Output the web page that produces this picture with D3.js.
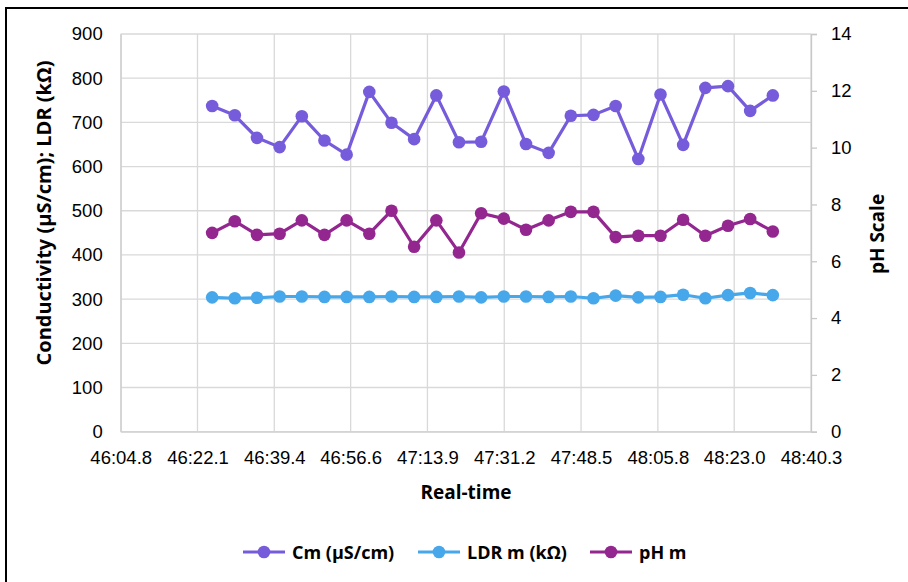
<!DOCTYPE html>
<html><head><meta charset="utf-8">
<script src="https://cdn.jsdelivr.net/npm/d3@7"></script>
<style>
body{margin:0;background:#fff;}
svg{display:block;font-family:"Open Sans",Lato,sans-serif;}
</style></head>
<body><svg id="c" width="908" height="582"></svg>
<script>
const times = ["46:25.4","46:30.5","46:35.5","46:40.6","46:45.6","46:50.7","46:55.7","47:00.8","47:05.8","47:10.9","47:15.9","47:21.0","47:26.0","47:31.1","47:36.1","47:41.2","47:46.2","47:51.3","47:56.3","48:01.4","48:06.4","48:11.5","48:16.5","48:21.6","48:26.6","48:31.7"];
const cm  = [737,716,665,644,714,659,627,769,699,662,761,655,656,770,651,631,715,717,737,617,763,649,778,782,726,761];
const ldr = [304,302,303,306,306,305,305,305,306,305,305,306,304,306,306,305,306,302,308,304,305,310,302,309,314,309];
const ph  = [7.00,7.41,6.93,6.97,7.44,6.93,7.44,6.97,7.78,6.51,7.44,6.31,7.69,7.50,7.11,7.44,7.74,7.74,6.85,6.90,6.90,7.46,6.90,7.25,7.49,7.05];
const xTickLabels = ["46:04.8","46:22.1","46:39.4","46:56.6","47:13.9","47:31.2","47:48.5","48:05.8","48:23.0","48:40.3"];
const leftTicks = [0,100,200,300,400,500,600,700,800,900];
const rightTicks = [0,2,4,6,8,10,12,14];
const seriesNames = ["Cm (µS/cm)","LDR m (kΩ)","pH m"];
const colors = ["#765cdb","#47a7eb","#93278f"];

const toSec = s => { const [m, r] = s.split(":"); return +m*60 + +r; };

const svg = d3.select("#c");
const L = 120.7, R = 811, T = 34, B = 431.7;

svg.append("rect").attr("x",6).attr("y",8).attr("width",908).attr("height",590)
  .attr("fill","none").attr("stroke","#000").attr("stroke-width",2);

const x = d3.scaleLinear().domain([toSec(xTickLabels[0]), toSec(xTickLabels[xTickLabels.length-1])]).range([L,R]);
const yL = d3.scaleLinear().domain([0,900]).range([B,T]);
const yR = d3.scaleLinear().domain([0,14]).range([B,T]);

const g = svg.append("g");
g.selectAll("line.h").data(leftTicks).join("line")
  .attr("x1",L).attr("x2",R).attr("y1",d=>yL(d)).attr("y2",d=>yL(d))
  .attr("stroke","#d9d9d9").attr("stroke-width",1.3);
g.selectAll("line.v").data(xTickLabels).join("line")
  .attr("x1",d=>x(toSec(d))).attr("x2",d=>x(toSec(d))).attr("y1",T).attr("y2",B)
  .attr("stroke","#d9d9d9").attr("stroke-width",1.3);

const tickFont = 18.5;
const axL = d3.axisLeft(yL).tickValues(leftTicks).tickSize(0).tickPadding(18);
svg.append("g").attr("transform",`translate(${L},0)`).call(axL)
  .call(s=>{s.select(".domain").attr("stroke","#d0d0d0").attr("stroke-width",1.3);
    s.selectAll("text").attr("font-size",tickFont).attr("fill","#000");});
const axR = d3.axisRight(yR).tickValues(rightTicks).tickSize(6).tickPadding(14);
svg.append("g").attr("transform",`translate(${R},0)`).call(axR)
  .call(s=>{s.select(".domain").attr("stroke","#c8c8c8").attr("stroke-width",1.3);
    s.selectAll("line").attr("stroke","#c8c8c8").attr("stroke-width",1.3);
    s.selectAll("text").attr("font-size",tickFont).attr("fill","#000");});
const axB = d3.axisBottom(x).tickValues(xTickLabels.map(toSec)).tickSize(0).tickPadding(19)
  .tickFormat((d,i)=>xTickLabels[i]);
svg.append("g").attr("transform",`translate(0,${B})`).call(axB)
  .call(s=>{s.select(".domain").attr("stroke","#d0d0d0").attr("stroke-width",1.3);
    s.selectAll("text").attr("font-size",tickFont).attr("fill","#000");});

svg.append("text").attr("transform","translate(51,213) rotate(-90)").attr("text-anchor","middle")
  .attr("font-size",20).attr("font-weight","bold").text("Conductivity (µS/cm); LDR (kΩ)");
svg.append("text").attr("transform","translate(884,234) rotate(-90)").attr("text-anchor","middle")
  .attr("font-size",19).attr("font-weight","bold").text("pH Scale");
svg.append("text").attr("x",466).attr("y",499).attr("text-anchor","middle")
  .attr("font-size",19).attr("font-weight","bold").text("Real-time");

const data = [{vals: cm, y: yL}, {vals: ldr, y: yL}, {vals: ph, y: yR}];
[0,2,1].forEach(k=>{
  const s = data[k];
  const pts = times.map((t,i)=>[x(toSec(t)), s.y(s.vals[i])]);
  svg.append("path").attr("d", d3.line()(pts)).attr("fill","none")
    .attr("stroke",colors[k]).attr("stroke-width",3.2).attr("stroke-linejoin","round");
  svg.append("g").selectAll("circle").data(pts).join("circle")
    .attr("cx",d=>d[0]).attr("cy",d=>d[1]).attr("r",6.3).attr("fill",colors[k]);
});

const legX = [243, 418, 590];
seriesNames.forEach((n,i)=>{
  const lg = svg.append("g").attr("transform",`translate(${legX[i]},552)`);
  lg.append("line").attr("x1",0).attr("x2",42).attr("stroke",colors[i]).attr("stroke-width",3.2);
  lg.append("circle").attr("cx",21).attr("r",6.3).attr("fill",colors[i]);
  lg.append("text").attr("x",49).attr("y",6.5).attr("font-size",18).attr("font-weight","bold").text(n);
});
</script></body></html>
